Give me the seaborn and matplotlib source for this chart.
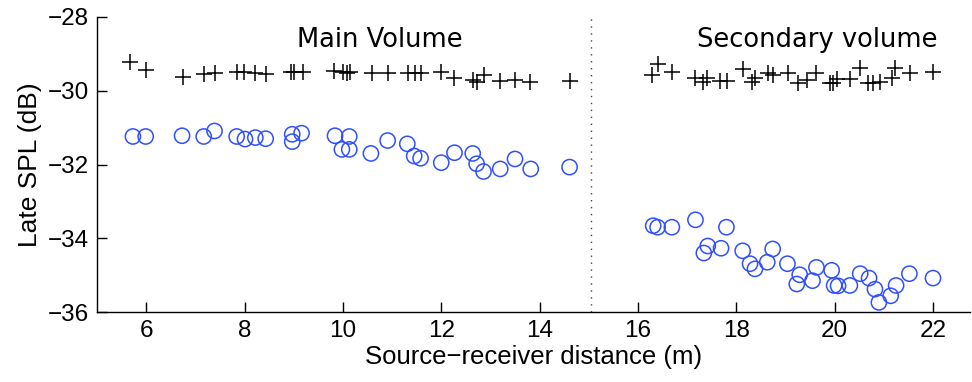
import pandas as pd
import seaborn as sns
import matplotlib.pyplot as plt


# DATA
main_circ_x = [5.73, 5.99, 6.73, 7.17, 7.39, 7.84, 8.01, 8.22, 8.43, 8.97, 8.97, 9.16,
               9.84, 9.98, 10.13, 10.13, 10.57, 10.91, 11.31, 11.45, 11.58, 12.00, 12.27,
               12.64, 12.72, 12.86, 13.20, 13.50, 13.82, 14.61]
main_circ_y = [-31.24, -31.24, -31.22, -31.24, -31.09, -31.24, -31.31, -31.27, -31.30, -31.18,
               -31.38, -31.15, -31.22, -31.59, -31.24, -31.59, -31.70, -31.35, -31.44, -31.77,
               -31.83, -31.95, -31.68, -31.70, -31.98, -32.19, -32.12, -31.85, -32.12, -32.07]

main_plus_x = [5.68, 6.00, 6.75, 7.17, 7.39, 7.85, 7.99, 8.22, 8.44, 8.95, 9.00, 9.18,
               9.81, 10.00, 10.15, 10.08, 10.59, 10.91, 11.33, 11.47, 11.58, 11.99, 12.26,
               12.65, 12.72, 12.86, 13.20, 13.50, 13.81, 14.61]
main_plus_y = [-29.21, -29.44, -29.63, -29.54, -29.53, -29.48, -29.48, -29.51, -29.54, -29.50,
               -29.50, -29.50, -29.46, -29.48, -29.50, -29.52, -29.53, -29.53, -29.53, -29.53,
               -29.53, -29.48, -29.66, -29.71, -29.77, -29.57, -29.73, -29.71, -29.75, -29.73]

sec_circ_x = [16.31, 16.40, 16.69, 17.17, 17.80, 17.42, 17.34, 17.69, 18.13, 18.74, 18.28,
              18.38, 18.63, 19.04, 19.29, 19.23, 19.55, 19.63, 19.94, 19.99, 20.07, 20.31,
              20.52, 20.70, 20.82, 20.90, 21.14, 21.25, 21.52, 22.00]
sec_circ_y = [-33.66, -33.70, -33.70, -33.50, -33.70, -34.21, -34.40, -34.27, -34.34, -34.29,
              -34.69, -34.83, -34.65, -34.69, -34.99, -35.24, -35.15, -34.79, -34.87, -35.28,
              -35.29, -35.28, -34.96, -35.08, -35.38, -35.74, -35.56, -35.28, -34.96, -35.08]

sec_plus_x = [16.28, 16.40, 16.69, 17.16, 17.33, 17.40, 17.67, 17.81, 18.13, 18.31, 18.38,
              18.65, 18.74, 19.05, 19.26, 19.43, 19.63, 19.91, 19.97, 20.05, 20.32, 20.51,
              20.68, 20.78, 20.92, 21.16, 21.23, 21.53, 22.00]
sec_plus_y = [-29.57, -29.27, -29.50, -29.66, -29.75, -29.66, -29.73, -29.73, -29.42, -29.75,
              -29.66, -29.53, -29.57, -29.53, -29.78, -29.71, -29.53, -29.78, -29.78, -29.69,
              -29.69, -29.39, -29.78, -29.78, -29.75, -29.66, -29.39, -29.53, -29.48]

divider_x = 15.05
labels = ['Main Volume', 'Secondary volume']
label_x = [10.76, 19.64]


circ_df = pd.DataFrame({'x': main_circ_x + sec_circ_x, 'y': main_circ_y + sec_circ_y})
plus_df = pd.DataFrame({'x': main_plus_x + sec_plus_x, 'y': main_plus_y + sec_plus_y})

sns.set_style('white')
plt.rcParams['font.family'] = ['Liberation Sans', 'DejaVu Sans']
plt.rcParams['text.color'] = 'black'
plt.rcParams['axes.labelcolor'] = 'black'
plt.rcParams['xtick.color'] = 'black'
plt.rcParams['ytick.color'] = 'black'

fig = plt.figure(figsize=(9.72, 3.82), dpi=100)
ax = fig.add_axes([0.0998, 0.1832, 0.898, 0.7723])

sns.scatterplot(data=circ_df, x='x', y='y', marker='o', s=120, facecolors='none',
                edgecolors='#3050ff', linewidth=1.1, ax=ax)
sns.scatterplot(data=plus_df, x='x', y='y', marker='+', s=140, color='black',
                linewidth=1.1, ax=ax)

ax.axvline(divider_x, color='#444444', linestyle=(0, (1, 4)), linewidth=1)

for lab, lx in zip(labels, label_x):
    ax.text(lx, -28.62, lab, ha='center', va='center', fontsize=18.5, family='DejaVu Sans')

ax.set_xlim(5, 22.75)
ax.set_ylim(-36, -28)
ax.set_xticks([6, 8, 10, 12, 14, 16, 18, 20, 22])
ax.set_yticks([-36, -34, -32, -30, -28])
ax.set_yticklabels(['\u221236', '\u221234', '\u221232', '\u221230', '\u221228'])
ax.tick_params(direction='in', length=7, width=1, labelsize=17.5, color='black', pad=6,
               left=True, bottom=True)
ax.set_xlabel('Source\u2212receiver distance (m)', fontsize=18.5, labelpad=2)
ax.set_ylabel('Late SPL (dB)', fontsize=19, labelpad=4)

sns.despine(ax=ax)
for side in ['left', 'bottom']:
    ax.spines[side].set_color('black')
    ax.spines[side].set_linewidth(1)

fig.savefig('out.png', dpi=100)
